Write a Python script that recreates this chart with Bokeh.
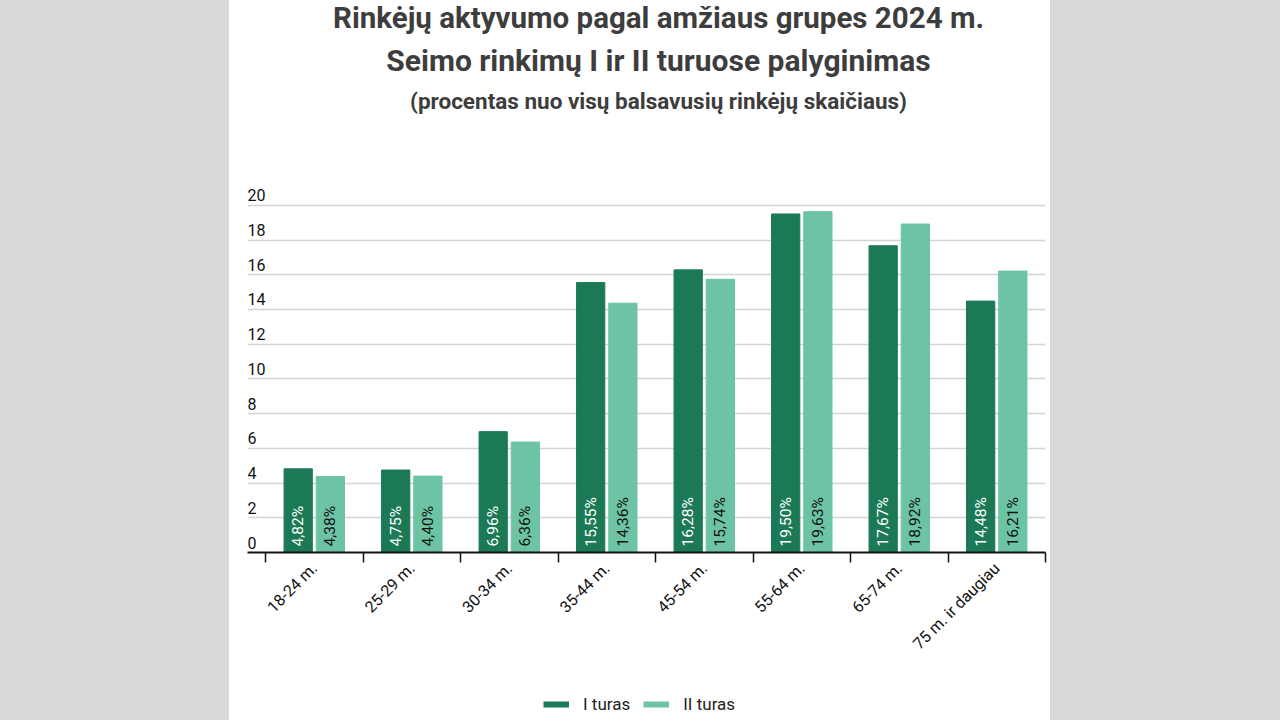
import math
from bokeh.plotting import figure
from bokeh.models import (Range1d, FixedTicker, ColumnDataSource, LabelSet, Legend,
                          LegendItem, Label, Spacer)
from bokeh.core.properties import value
from bokeh.layouts import row, column
from bokeh.embed import file_html
from bokeh.resources import INLINE

# ---- data ----
categories = ["18-24 m.", "25-29 m.", "30-34 m.", "35-44 m.", "45-54 m.",
              "55-64 m.", "65-74 m.", "75 m. ir daugiau"]
round1 = [4.82, 4.75, 6.96, 15.55, 16.28, 19.50, 17.67, 14.48]
round2 = [4.38, 4.40, 6.36, 14.36, 15.74, 19.63, 18.92, 16.21]
series_names = ["I turas", "II turas"]
y_ticks = [0, 2, 4, 6, 8, 10, 12, 14, 16, 18, 20]
title_lines = ["Rinkėjų aktyvumo pagal amžiaus grupes 2024 m.",
               "Seimo rinkimų I ir II turuose palyginimas",
               "(procentas nuo visų balsavusių rinkėjų skaičiaus)"]

DARK = "#1b7a55"
LIGHT = "#6cc4a4"
FONT = "Roboto"
W = 821

n = len(categories)
centers = [i + 0.5 for i in range(n)]
fmt = lambda v: f"{v:.2f}".replace(".", ",") + "%"


def blank(height):
    f = figure(width=W, height=height, output_backend="svg", toolbar_location=None,
               x_range=Range1d(0, 1), y_range=Range1d(0, 1),
               x_axis_type=None, y_axis_type=None,
               min_border_left=0, min_border_right=0, min_border_top=0,
               min_border_bottom=0)
    f.outline_line_color = None
    f.xgrid.visible = False
    f.ygrid.visible = False
    f.background_fill_color = "white"
    f.border_fill_color = "white"
    return f


# ---- title block (frame is aligned with the chart frame, left edge 18px in) ----
TITLE_H = 177
TITLE_CX = 411
ft = blank(TITLE_H)
for txt, y, size in ((title_lines[0], TITLE_H - 17, "29.5px"),
                     (title_lines[1], TITLE_H - 60, "30px"),
                     (title_lines[2], TITLE_H - 100, "22.5px")):
    ft.add_layout(Label(x=TITLE_CX, y=y, x_units="screen", y_units="screen", text=txt,
                        text_align="center", text_baseline="middle",
                        text_font=FONT, text_font_size=size,
                        text_font_style="bold", text_color="#3d3d3d"))

# ---- main chart ----
p = figure(width=W, height=511, output_backend="svg", toolbar_location=None,
           x_range=Range1d(-0.185, n), y_range=Range1d(0, 21.6),
           min_border_left=18, min_border_right=5, min_border_top=0,
           min_border_bottom=136)
p.outline_line_color = None
p.background_fill_color = "white"
p.border_fill_color = "white"

off = 0.165
w = 0.29
src1 = ColumnDataSource(dict(x=[c - off for c in centers], top=round1,
                             lbl=[fmt(v) for v in round1], y0=[0] * n))
src2 = ColumnDataSource(dict(x=[c + off for c in centers], top=round2,
                             lbl=[fmt(v) for v in round2], y0=[0] * n))
p.vbar(x="x", top="top", width=w, source=src1, fill_color=DARK, line_color=DARK)
p.vbar(x="x", top="top", width=w, source=src2, fill_color=LIGHT, line_color=LIGHT)

for src, col in ((src1, "white"), (src2, "#111111")):
    p.add_layout(LabelSet(x="x", y="y0", text="lbl", source=src, angle=math.pi / 2,
                          y_offset=6, text_align="left", text_baseline="middle",
                          text_font=value(FONT), text_font_size="15.5px",
                          text_color=col))

p.yaxis.visible = False
p.ygrid.ticker = FixedTicker(ticks=y_ticks)
p.ygrid.grid_line_color = "#d4d4d4"
p.ygrid.grid_line_width = 1.5
p.xgrid.grid_line_color = None

ysrc = ColumnDataSource(dict(x=[0] * len(y_ticks), y=y_ticks, t=[str(t) for t in y_ticks]))
p.add_layout(LabelSet(x="x", y="y", text="t", source=ysrc, x_units="screen",
                      y_offset=4, text_align="left", text_baseline="bottom",
                      text_font=value(FONT), text_font_size="16px",
                      text_color="#111111"))

xa = p.xaxis[0]
xa.ticker = FixedTicker(ticks=centers, minor_ticks=list(range(n + 1)))
xa.major_label_overrides = {c: cat for c, cat in zip(centers, categories)}
xa.major_label_orientation = math.pi / 4
xa.major_tick_line_color = None
xa.major_tick_out = 0
xa.major_tick_in = 0
xa.minor_tick_out = 10
xa.minor_tick_in = 0
xa.minor_tick_line_color = "#111111"
xa.minor_tick_line_width = 1.5
xa.axis_line_color = "#111111"
xa.axis_line_width = 2
xa.major_label_standoff = 3
xa.major_label_text_font = FONT
xa.major_label_text_font_size = "16px"
xa.major_label_text_color = "#111111"

# ---- legend block ----
fl = blank(32)
nan = float("nan")
l1 = fl.line(x=[nan], y=[nan], line_color=DARK, line_width=6)
l2 = fl.line(x=[nan], y=[nan], line_color=LIGHT, line_width=6)
legend = Legend(items=[LegendItem(label=series_names[0], renderers=[l1]),
                       LegendItem(label=series_names[1], renderers=[l2])],
                orientation="horizontal", location=(296, 6),
                label_text_font=FONT, label_text_font_size="17px",
                label_text_color="#222222", glyph_width=26, spacing=13,
                label_standoff=14,
                border_line_color=None, background_fill_alpha=0,
                padding=0, margin=0)
fl.add_layout(legend, "center")

GRAY = {"background-color": "#d9d9d9"}
layout = row(Spacer(width=229, height=720, styles=GRAY),
             column(ft, p, fl, spacing=0),
             Spacer(width=230, height=720, styles=GRAY))

open("out.html", "w").write(file_html(layout, INLINE))
